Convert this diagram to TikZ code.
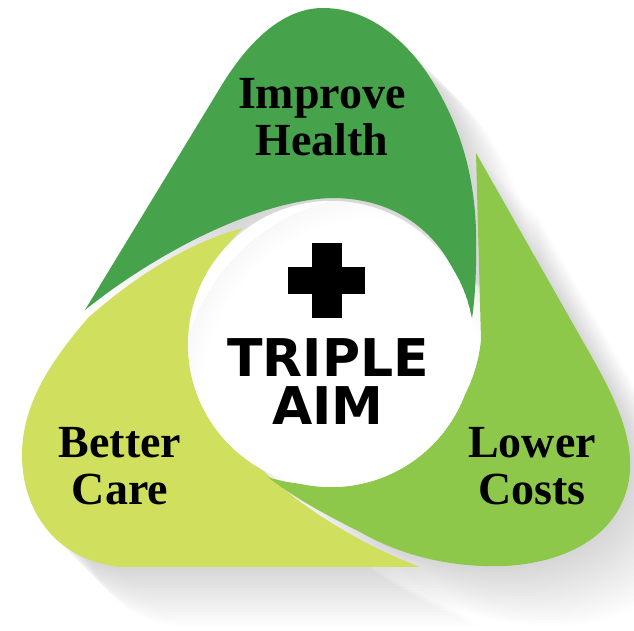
\documentclass[tikz,border=0pt]{standalone}
\usepackage{fontspec}
\setmainfont{Liberation Serif}
\newfontfamily\aimfamily{DejaVu Sans}
\definecolor{healthgreen}{HTML}{47A34B}
\definecolor{costgreen}{HTML}{8DC84B}
\definecolor{caregreen}{HTML}{D0DF5D}
\pgfdeclareradialshading{aimglow}{\pgfpointorigin}{color(0bp)=(white); color(22bp)=(white); color(40bp)=(black!16); color(50bp)=(black!20)}
% outlines of the three leaves (pixel grid, y downwards)
\newcommand{\healthleaf}{(85,310) -- (220,88) .. controls (250,38) and (285,8) .. (323,8) .. controls (365,8) and (400,35) .. (425,70) .. controls (458,118) and (474,170) .. (476,230) .. controls (477,280) and (474,310) .. (470,330) .. controls (462,250) and (410,198) .. (332,198) .. controls (260,200) and (160,250) .. (85,310) -- cycle}
\newcommand{\costleaf}{(476,153) -- (585,345) .. controls (612,392) and (638,440) .. (628,485) .. controls (618,530) and (575,562) .. (505,566) .. controls (450,568) and (400,555) .. (360,532) .. controls (320,512) and (290,495) .. (268,477) .. controls (350,505) and (470,450) .. (481,340) -- cycle}
\newcommand{\careleaf}{(243,228) .. controls (180,245) and (125,285) .. (88,318) .. controls (50,362) and (22,405) .. (22,455) .. controls (22,510) and (55,560) .. (120,567) -- (420,567) .. controls (370,548) and (310,515) .. (262,470) .. controls (200,420) and (175,290) .. (243,228) -- cycle}
\begin{document}
\begin{tikzpicture}[x=0.5pt,y=-0.5pt,
    leaflabel/.style={font=\bfseries\fontsize{23}{23.5}\selectfont, align=center, inner sep=0pt},
    aimlabel/.style={font=\aimfamily\bfseries\fontsize{26}{24}\selectfont, align=center, inner sep=0pt},
    leafshadow/.style={black, opacity=0.008}]
	\useasboundingbox (0,0) rectangle (634,631);
	% long soft shadow
	\foreach \k in {1,...,20}{
	    \fill[leafshadow, shift={(\k*3,\k*3)}] \careleaf;
	    \fill[leafshadow, shift={(\k*3,\k*3)}] \costleaf;
	    \fill[leafshadow, shift={(\k*3,\k*3)}] \healthleaf;
	}
	\fill[caregreen] \careleaf;
	\fill[costgreen] \costleaf;
	\fill[healthgreen] \healthleaf;
	% centre disc
	\begin{scope}
	    \clip (331,344) circle[radius=143];
	    \fill[white] (331,344) circle[radius=143];
	    \shade[shading=aimglow] (380,395) circle[radius=200];
	\end{scope}
	\fill[black] (312,243) rectangle (342,318);
	\fill[black] (288,267) rectangle (365,294);
	\node[aimlabel] (aim) at (328,382) {TRIPLE\\AIM};
	\node[leaflabel] (health) at (322,117) {Improve\\Health};
	\node[leaflabel] (care) at (120,466) {Better\\Care};
	\node[leaflabel] (costs) at (532,466) {Lower\\Costs};
\end{tikzpicture}
\end{document}
